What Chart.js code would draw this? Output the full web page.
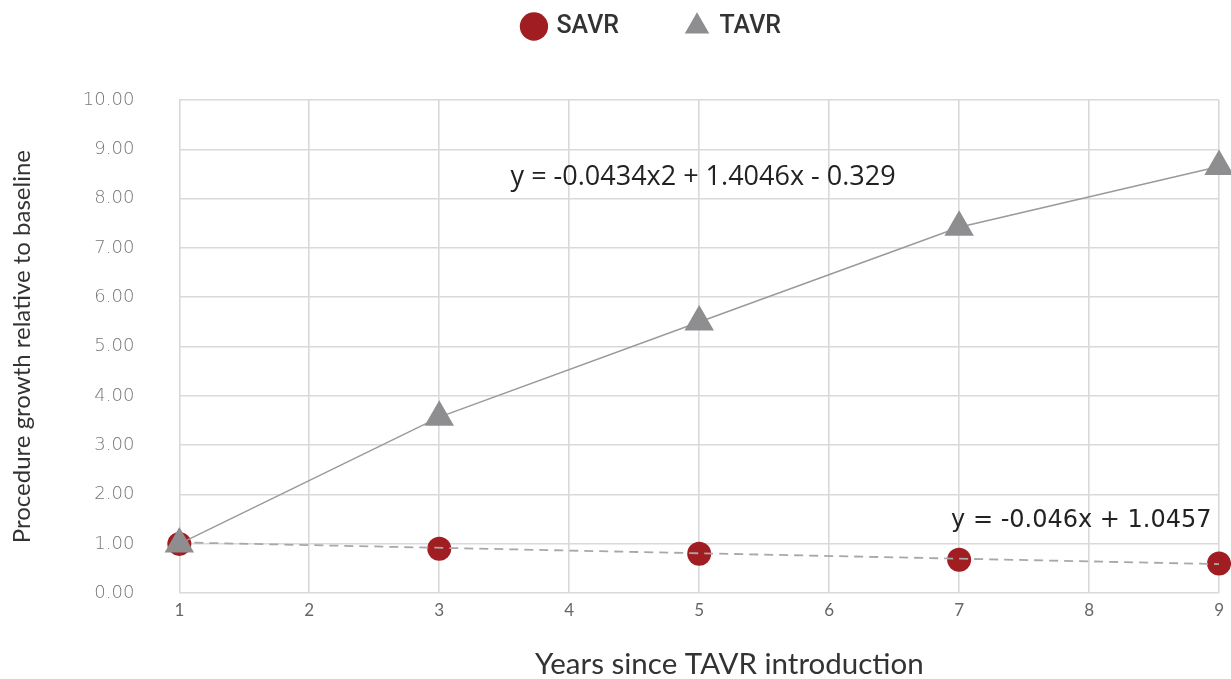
<!DOCTYPE html>
<html>
<head>
<meta charset="utf-8">
<script src="https://cdn.jsdelivr.net/npm/chart.js@4.4.1/dist/chart.umd.min.js"></script>
<style>
  html, body { margin: 0; padding: 0; background: #fff; }
</style>
</head>
<body>
<canvas id="growthChart" width="1231" height="679"></canvas>
<script>
const years = [1, 3, 5, 7, 9];
const savrValues = [1.0, 0.90, 0.80, 0.68, 0.60];
const tavrValues = [1.0, 3.57, 5.5, 7.42, 8.65];
const savrTrendX = [1, 9];
const savrTrendY = [1.03, 0.59];
const tavrEquation = 'y = -0.0434x2 + 1.4046x - 0.329';
const savrEquation = 'y = -0.046x + 1.0457';

const toPoints = (xs, ys) => xs.map((x, i) => ({ x: x, y: ys[i] }));

// equation labels, placed in data units
const equationLabels = {
  id: 'equationLabels',
  afterDatasetsDraw(chart) {
    const { ctx, scales: { x, y } } = chart;
    ctx.save();
    ctx.fillStyle = '#222';
    ctx.textAlign = 'center';
    ctx.textBaseline = 'middle';
    ctx.font = '27px "Open Sans"';
    ctx.fillText(tavrEquation, x.getPixelForValue(5.03), y.getPixelForValue(8.43));
    ctx.font = '24px "DejaVu Sans"';
    ctx.fillText(savrEquation, x.getPixelForValue(7.94), y.getPixelForValue(1.47));
    ctx.restore();
  }
};

// legend sits a bit right of centre and leaves a tall gap above the plot
const legendSpace = {
  id: 'legendSpace',
  beforeInit(chart) {
    const fit = chart.legend.fit;
    chart.legend.fit = function () {
      fit.bind(chart.legend)();
      this.height = 100;
    };
  },
  afterLayout(chart) {
    chart.legend.left += 37;
    chart.legend.right += 37;
    chart.legend.top -= 54;
    chart.legend.bottom -= 54;
  }
};

new Chart(document.getElementById('growthChart'), {
  type: 'line',
  data: {
    datasets: [{
      label: 'SAVR',
      data: toPoints(years, savrValues),
      showLine: false,
      pointStyle: 'circle',
      pointRadius: 12,
      pointHoverRadius: 12,
      backgroundColor: '#a01d21',
      borderColor: '#a01d21',
      borderWidth: 0,
      clip: false,
      order: 2
    }, {
      label: 'TAVR',
      data: toPoints(years, tavrValues),
      pointStyle: 'triangle',
      pointRadius: 17,
      pointHoverRadius: 17,
      backgroundColor: '#8e8e90',
      pointBackgroundColor: '#8e8e90',
      borderColor: '#9a9a9a',
      pointBorderWidth: 0,
      borderWidth: 1.5,
      tension: 0,
      clip: false,
      order: 0
    }, {
      label: 'trend',
      data: toPoints(savrTrendX, savrTrendY),
      borderColor: '#a8a8a8',
      borderWidth: 1.8,
      borderDash: [9, 6],
      pointRadius: 0,
      order: 1
    }]
  },
  options: {
    responsive: false,
    animation: false,
    layout: { autoPadding: false, padding: { top: 0, right: 0, left: 0, bottom: -3 } },
    plugins: {
      legend: {
        position: 'top',
        labels: {
          usePointStyle: true,
          boxWidth: 20,
          boxHeight: 20,
          color: '#333',
          padding: 68,
          font: { family: 'Roboto', size: 25, weight: '500' },
          filter: (item) => item.text !== 'trend',
          sort: (a, b) => a.datasetIndex - b.datasetIndex
        }
      },
      tooltip: { enabled: false }
    },
    scales: {
      x: {
        type: 'linear',
        min: 1,
        max: 9,
        ticks: {
          stepSize: 1,
          color: '#666',
          padding: 7,
          font: { family: 'Lato', size: 17 }
        },
        grid: { color: '#d9d9d9', lineWidth: 1.6, drawTicks: false },
        border: { display: false },
        title: {
          display: true,
          text: '        Years since TAVR introduction',
          color: '#333',
          padding: { top: 19, bottom: 0 },
          font: { family: 'Lato', size: 29.5 }
        }
      },
      y: {
        min: 0,
        max: 10,
        ticks: {
          stepSize: 1,
          color: '#777',
          padding: 45,
          font: { family: 'DejaVu Sans', size: 18, weight: '200' },
          callback: (v) => v.toFixed(2)
        },
        grid: { color: '#d9d9d9', lineWidth: 1.6, drawTicks: false },
        border: { display: false },
        title: {
          display: true,
          text: 'Procedure growth relative to baseline',
          color: '#333',
          padding: { top: 8, bottom: 1 },
          font: { family: 'Lato', size: 24 }
        }
      }
    }
  },
  plugins: [equationLabels, legendSpace]
});
</script>
</body>
</html>
